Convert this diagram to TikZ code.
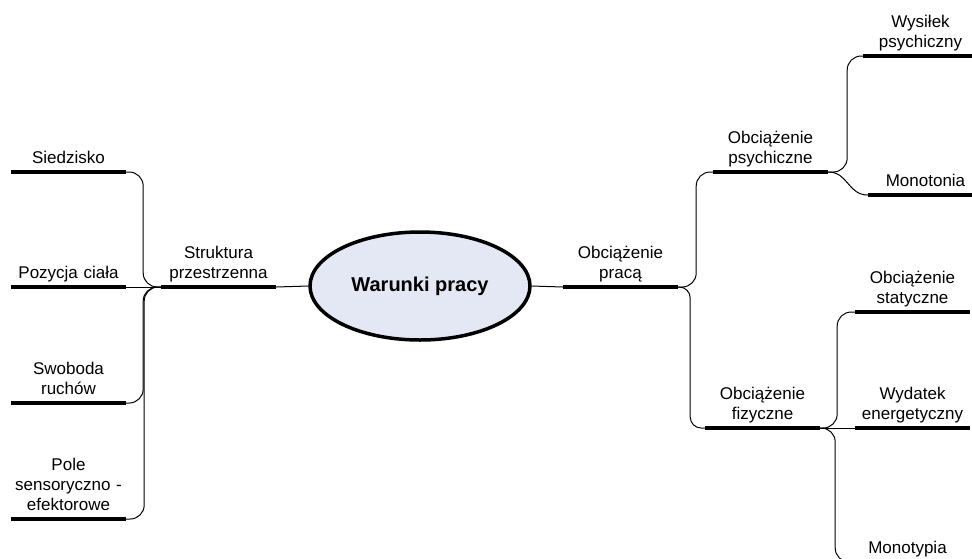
\documentclass[tikz,border=0pt]{standalone}
\usepackage{fontspec}
\setmainfont{Liberation Sans}
\usetikzlibrary{shapes.geometric}
\definecolor{hubfill}{HTML}{E4E8F4}
\newcommand{\lastdepth}{\rule[-4pt]{0pt}{1pt}}
\begin{document}
\begin{tikzpicture}[x=1pt,y=-1pt,
  lab/.style={anchor=south, text width=115pt, align=center, inner xsep=0pt, inner ysep=4.5pt, font=\fontsize{17}{20}\selectfont, execute at end node=\lastdepth},
  bar/.style={line width=4pt},
  conn/.style={line width=1pt, rounded corners=14pt},
  hub/.style={ellipse, draw, line width=3.5pt, fill=hubfill, minimum width=220pt, minimum height=108pt, inner sep=0pt, font=\bfseries\fontsize{20}{24}\selectfont}]
\useasboundingbox (0,0) rectangle (972,558);
\clip (0,0) rectangle (972,558);

\node[hub] (center) at (420,286) {Warunki pracy};

\node[lab] (siedz) at (68.5,172) {Siedzisko};
\node[lab] (pozy) at (68.5,287) {Pozycja ciała};
\node[lab] (swob) at (68.5,403) {Swoboda\\ruchów};
\node[lab] (pole) at (68.5,519) {Pole\\sensoryczno -\\efektorowe};
\node[lab] (strukt) at (218.5,287) {Struktura\\przestrzenna};
\node[lab] (pracy) at (620.5,287) {Obciążenie\\pracą};
\node[lab] (psych) at (770.5,172) {Obciążenie\\psychiczne};
\node[lab] (fiz) at (762.5,428) {Obciążenie\\fizyczne};
\node[lab] (wys) at (920.5,56) {Wysiłek\\psychiczny};
\node[lab] (monot) at (925.5,195) {Monotonia};
\node[lab] (stat) at (912.5,312) {Obciążenie\\statyczne};
\node[lab] (wyd) at (912.5,428) {Wydatek\\energetyczny};
\node[lab] (monotyp) at (907.5,562) {Monotypia};

\foreach \n in {siedz,pozy,swob,pole,strukt,pracy,psych,fiz,wys,monot,stat,wyd,monotyp}
  \draw[bar] (\n.south west) -- (\n.south east);

% hub connectors
\draw[conn] (strukt.south east) -- (center.west);
\draw[conn] (center.east) -- (pracy.south west);

% left branch
\draw[conn] (siedz.south east) -- ++(17,0) |- (strukt.south west);
\draw[conn] (pozy.south east) -- (strukt.south west);
\draw[conn] (swob.south east) -- ++(17,0) |- (strukt.south west);
\draw[conn] (pole.south east) -- ++(18,0) |- (strukt.south west);

% right branch
\draw[conn] (pracy.south east) -- ++(18,0) |- (psych.south west);
\draw[conn, rounded corners=11pt] (pracy.south east) -- ++(12,0) |- (fiz.south west);

\draw[conn] (psych.south east) -- ++(19,0) |- (wys.south west);
\draw[conn] (psych.south east) .. controls +(20,0) and +(-20,0) .. (monot.south west);

\draw[conn] (fiz.south east) -- ++(17,0) |- (stat.south west);
\draw[conn] (fiz.south east) -- (wyd.south west);
\draw[conn] (fiz.south east) -- ++(15,0) |- (monotyp.south west);
\end{tikzpicture}
\end{document}
